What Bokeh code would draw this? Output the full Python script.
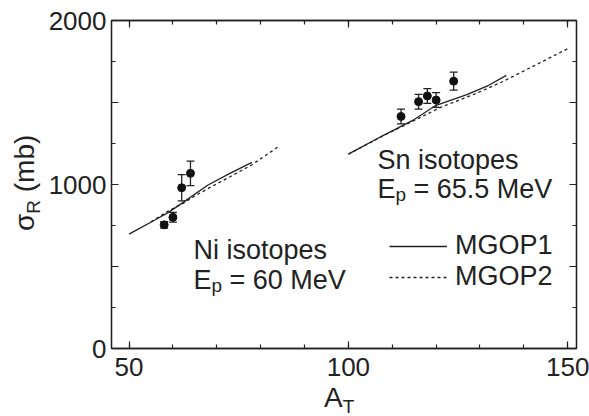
import math
from bokeh.plotting import figure
from bokeh.layouts import row, column
from bokeh.models import (Range1d, FixedTicker, LinearAxis, Label, Legend, LegendItem,
                          ColumnDataSource, CustomJSTickFormatter, Div)
from bokeh.embed import file_html
from bokeh.resources import INLINE

# ---- data ----
ni_A = [58, 60, 62, 64]
ni_sig = [754, 800, 980, 1068]
ni_err = [20, 30, 80, 75]

sn_A = [112, 116, 118, 120, 124]
sn_sig = [1415, 1505, 1540, 1515, 1630]
sn_err = [45, 45, 45, 45, 55]

ni_m1_A = [50, 56, 59, 62, 68, 73, 78]
ni_m1 = [697, 785, 830, 885, 997, 1068, 1135]
ni_m2_A = [55, 59, 62, 65, 69, 73, 78, 84]
ni_m2 = [772, 840, 880, 930, 990, 1047, 1120, 1230]

sn_m1_A = [100, 108, 115, 120, 127, 132, 136]
sn_m1 = [1185, 1300, 1396, 1483, 1548, 1605, 1665]
sn_m2_A = [100, 108, 115, 121, 129, 135, 141, 150]
sn_m2 = [1185, 1298, 1390, 1470, 1554, 1625, 1706, 1828]

x_major = [50, 100, 150]
x_minor = list(range(50, 151, 10))
y_major = [0, 500, 1000, 1500, 2000]
y_minor = list(range(0, 2001, 250))
y_labels = {0: "0", 500: "", 1000: "1000", 1500: "", 2000: "2000"}

FONT = "Liberation Sans"
INK = "#222222"

XMIN, XMAX, YMIN, YMAX = 46, 152, 0, 2000
TOTAL_W, TOTAL_H = 589, 416
YDIV_W = 44
W = TOTAL_W - YDIV_W
H = 388
XDIV_H = TOTAL_H - H
BL, BR, BT, BB = 67, 13, 20, 40

p = figure(width=W, height=H, x_range=Range1d(XMIN, XMAX), y_range=Range1d(YMIN, YMAX),
           output_backend="svg", toolbar_location=None,
           min_border_left=BL, min_border_right=BR, min_border_top=BT, min_border_bottom=BB)
p.xgrid.visible = False
p.ygrid.visible = False
p.outline_line_color = INK
p.outline_line_width = 1.3
p.background_fill_color = "white"
p.border_fill_alpha = 0

def style_axis(ax, ticks, minor, labels=True, overrides=None):
    ax.ticker = FixedTicker(ticks=ticks, minor_ticks=minor)
    ax.axis_line_color = INK
    ax.axis_line_width = 1.3
    ax.major_tick_line_color = INK
    ax.minor_tick_line_color = INK
    ax.major_tick_line_width = 1.2
    ax.minor_tick_line_width = 1.2
    ax.major_tick_in = 7
    ax.major_tick_out = 0
    ax.minor_tick_in = 4
    ax.minor_tick_out = 0
    if labels:
        ax.major_label_text_font = FONT
        ax.major_label_text_font_size = "26px"
        ax.major_label_text_color = INK
        if overrides:
            ax.major_label_overrides = overrides
    else:
        ax.formatter = CustomJSTickFormatter(code="return ''")
        ax.major_label_text_font_size = "0px"
        ax.major_label_standoff = 0

xa = p.xaxis[0]
style_axis(xa, x_major, x_minor)
xa.major_label_standoff = 9
ya = p.yaxis[0]
style_axis(ya, y_major, y_minor, overrides=y_labels)
ya.major_label_standoff = 5

top = LinearAxis()
style_axis(top, x_major, x_minor, labels=False)
p.add_layout(top, "above")
right = LinearAxis()
style_axis(right, y_major, y_minor, labels=False)
p.add_layout(right, "right")

# ---- model curves ----
r1 = p.line(ni_m1_A, ni_m1, line_color=INK, line_width=1.3)
r2 = p.line(ni_m2_A, ni_m2, line_color=INK, line_width=1.3, line_dash="3 3")
p.line(sn_m1_A, sn_m1, line_color=INK, line_width=1.3)
p.line(sn_m2_A, sn_m2, line_color=INK, line_width=1.3, line_dash="3 3")

# ---- data points with error bars ----
for A, s, e in ((ni_A, ni_sig, ni_err), (sn_A, sn_sig, sn_err)):
    src = ColumnDataSource(dict(x=A, y=s,
                                lo=[a - b for a, b in zip(s, e)],
                                hi=[a + b for a, b in zip(s, e)]))
    p.segment(x0="x", y0="lo", x1="x", y1="hi", source=src, line_color=INK, line_width=1.3)
    p.scatter(x="x", y="lo", source=src, marker="dash", size=8, line_color=INK, line_width=1.3)
    p.scatter(x="x", y="hi", source=src, marker="dash", size=8, line_color=INK, line_width=1.3)
    p.scatter("x", "y", source=src, size=8, color="#111111")

# ---- legend ----
legend = Legend(items=[LegendItem(label="MGOP1", renderers=[r1]),
                       LegendItem(label="MGOP2", renderers=[r2])],
                location=(278, 56), glyph_width=58, glyph_height=24, label_height=24,
                label_standoff=8, padding=0, margin=0, spacing=-4,
                label_text_font=FONT, label_text_font_size="27px", label_text_color=INK,
                border_line_color=None, background_fill_alpha=0)
p.add_layout(legend)

# ---- texts inside the frame (page pixel positions -> data coords) ----
FL, FR, FT, FB = YDIV_W + BL, YDIV_W + W - BR, BT, H - BB
SHIFT = -8
def dx(px):
    return XMIN + (px - FL) * (XMAX - XMIN) / (FR - FL)
def dy(py):
    return YMIN + (FB - py - SHIFT) * (YMAX - YMIN) / (FB - FT)

def txt(t, px, py, size):
    p.add_layout(Label(x=dx(px), y=dy(py), text=t, text_font=FONT,
                       text_font_size=f"{size}px", text_color=INK,
                       text_align="left", text_baseline="alphabetic"))

txt("Ni isotopes", 193, 257, 27)
txt("E", 193, 287, 27)
txt("p", 211, 293, 19)
txt("= 60 MeV", 229, 287, 27)

txt("Sn isotopes", 377, 167, 27)
txt("E", 377, 196, 27)
txt("p", 395, 202, 19)
txt("= 65.5 MeV", 413, 196, 27)

# ---- axis titles as HTML text with real subscripts ----
x_title = ('<div style="white-space:nowrap; margin-left:%dpx; position:relative; top:-4px; '
           'font-size:28px; line-height:28px;">A<span style="font-size:19px; '
           'vertical-align:-6px;">T</span></div>') % (324 - YDIV_W)
y_title = ('<div style="display:inline-block; white-space:nowrap; font-size:28px; '
           'line-height:30px; transform-origin:0 0; '
           'transform:translate(10px, 231px) rotate(-90deg);">&sigma;<span '
           'style="font-size:19px; vertical-align:-6px;">R</span> (mb)</div>')

base_styles = {"font-family": FONT, "color": INK, "margin": "0", "padding": "0",
               "overflow": "visible"}
xdiv = Div(text=x_title, width=W, height=XDIV_H, margin=0, styles=base_styles)
ydiv = Div(text=y_title, width=YDIV_W, height=TOTAL_H, margin=0, styles=base_styles)

layout = row(ydiv, column(p, xdiv, spacing=0), spacing=0)

open("out.html", "w").write(file_html(layout, INLINE))
